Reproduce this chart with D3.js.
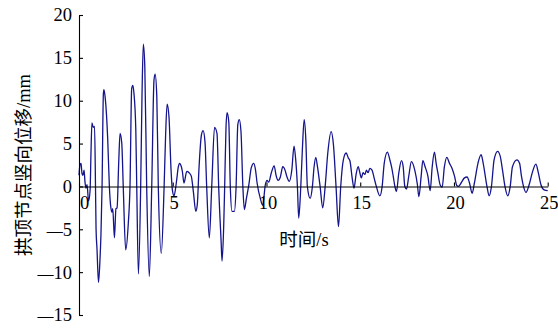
<!DOCTYPE html>
<html>
<head>
<meta charset="utf-8">
<script src="https://cdn.jsdelivr.net/npm/d3@7"></script>
<style>
  html, body { margin: 0; padding: 0; background: #fff; }
  svg { display: block; }
  .tick text { font-family: "Liberation Serif", "Times New Roman", serif; font-size: 18.5px; fill: #000; }
  .title { font-family: "Liberation Serif", "Noto Sans CJK SC", serif; font-size: 18.5px; fill: #000; }
</style>
</head>
<body>
<svg id="chart" width="558" height="330"></svg>
<script>
// Crown (vault-top) node vertical displacement over time
const timeS = [
  0.00, 0.05, 0.11, 0.16, 0.21, 0.27, 0.32, 0.37, 0.43, 0.51, 0.59, 0.64, 0.69, 0.76, 0.83, 0.88,
  0.91, 0.96, 1.04, 1.12, 1.17, 1.23, 1.30, 1.33, 1.40, 1.53, 1.62, 1.69, 1.76, 1.80, 1.89, 1.97,
  2.03, 2.12, 2.19, 2.28, 2.36, 2.49, 2.63, 2.72, 2.81, 2.87, 2.93, 3.03, 3.08, 3.17, 3.29, 3.36,
  3.43, 3.51, 3.61, 3.75, 3.88, 4.00, 4.06, 4.15, 4.23, 4.39, 4.54, 4.62, 4.70, 4.80, 4.91, 4.98,
  5.07, 5.19, 5.30, 5.36, 5.46, 5.51, 5.60, 5.75, 5.87, 5.99, 6.10, 6.23, 6.31, 6.40, 6.53, 6.62,
  6.72, 6.81, 6.95, 7.08, 7.23, 7.36, 7.45, 7.58, 7.63, 7.72, 7.77, 7.84, 7.90, 7.99, 8.07, 8.16,
  8.29, 8.38, 8.47, 8.55, 8.64, 8.74, 8.82, 8.93, 9.06, 9.19, 9.32, 9.41, 9.50, 9.67, 9.80, 9.94,
  10.03, 10.12, 10.26, 10.41, 10.51, 10.62, 10.74, 10.87, 10.99, 11.08, 11.22, 11.35, 11.47, 11.56, 11.65, 11.72,
  11.83, 11.92, 12.01, 12.10, 12.18, 12.33, 12.45, 12.54, 12.63, 12.72, 12.86, 13.00, 13.13, 13.27, 13.45, 13.57,
  13.71, 13.84, 13.96, 14.10, 14.25, 14.37, 14.45, 14.57, 14.67, 14.78, 14.89, 14.98, 15.06, 15.15, 15.25, 15.33,
  15.42, 15.51, 15.63, 15.74, 15.86, 16.05, 16.17, 16.28, 16.45, 16.58, 16.67, 16.76, 16.85, 16.93, 17.06, 17.20,
  17.29, 17.38, 17.47, 17.59, 17.73, 17.91, 18.05, 18.13, 18.25, 18.34, 18.46, 18.61, 18.73, 18.84, 18.96, 19.05,
  19.14, 19.26, 19.37, 19.49, 19.62, 19.76, 19.90, 20.03, 20.15, 20.24, 20.38, 20.56, 20.70, 20.83, 20.97, 21.09,
  21.28, 21.45, 21.56, 21.76, 21.88, 22.00, 22.14, 22.33, 22.47, 22.59, 22.72, 22.87, 23.00, 23.12, 23.36, 23.50,
  23.60, 23.71, 23.84, 24.01, 24.19, 24.37, 24.49, 24.64, 24.81, 25.00
];
const displacementMm = [
  1.3, 2.5, 2.7, 1.5, 1.3, 1.9, 0.5, -0.2, 0.2, -1.7, -0.5, 4.0, 7.4, 6.9, 7.0, 0.0,
  -5.0, -7.3, -11.2, -8.5, -5.7, 0.0, 10.8, 11.3, 10.3, 5.6, 0.0, -2.3, -3.0, -2.6, -6.0, -2.6,
  -2.5, 2.9, 6.2, 5.1, 0.0, -7.4, -4.3, 0.0, 11.4, 11.8, 10.9, 6.6, 0.0, -10.2, 0.0, 10.5,
  16.6, 14.0, 0.0, -10.5, 0.0, 12.4, 13.1, 10.5, 0.0, -7.8, 0.0, 6.0, 9.6, 8.1, 1.9, -0.4,
  -1.1, 0.4, 2.3, 2.7, 2.3, 1.8, 0.4, 1.75, 1.6, 1.2, -0.6, -2.9, -2.1, 2.1, 6.0, 6.5,
  5.2, 0.0, -6.0, 0.0, 6.9, 6.2, 0.0, -6.4, -8.7, -4.5, 0.0, 6.8, 8.6, 7.5, 0.0, -2.9,
  -2.9, 0.0, 7.2, 7.8, 6.4, 0.0, -2.7, -1.4, 0.2, 2.2, 2.7, 2.0, 0.4, -1.4, -2.2, 0.2,
  0.7, 0.5, 1.6, 2.4, 1.3, 0.7, 1.1, 2.3, 1.9, 1.2, 0.6, 1.9, 4.7, 3.1, 0.0, -3.7,
  0.0, 4.6, 7.8, 5.4, 0.0, -1.4, 0.0, 2.3, 3.4, 2.3, 0.0, -2.5, 0.0, 3.9, 6.4, 4.9,
  0.0, -4.7, 0.0, 3.1, 3.9, 3.3, 3.0, 1.0, -0.2, 1.4, 2.3, 1.6, 1.0, 1.6, 1.4, 1.9,
  1.6, 2.1, 1.9, 1.0, 0.0, -1.1, 0.0, 2.7, 4.0, 3.1, 2.3, 1.2, 0.0, -0.6, 1.6, 3.0,
  2.3, 0.0, -0.3, 1.2, 2.9, 1.9, 0.2, -1.2, 1.2, 3.0, 2.3, 1.2, -0.5, 2.3, 4.0, 2.7,
  1.6, 0.2, -0.1, 2.3, 3.4, 2.7, 2.1, 1.2, 0.1, 0.0, 0.4, 1.0, 1.1, 0.4, -0.8, 0.4,
  2.7, 3.7, 2.7, 0.0, -1.1, 0.0, 3.1, 4.1, 3.5, 1.9, 0.0, -1.1, 0.0, 2.3, 3.1, 2.7,
  1.2, 0.0, -0.7, 0.2, 1.7, 2.6, 1.7, 0.2, -0.4, -0.5
];
const xTicks = [0, 5, 10, 15, 20, 25];
const yTicks = [-15, -10, -5, 0, 5, 10, 15, 20];
const xTitle = "时间/s";
const yTitle = "拱顶节点竖向位移/mm";

const svg = d3.select("#chart");
const x = d3.scaleLinear().domain([0, 25]).range([79, 547.7]);
const y = d3.scaleLinear().domain([-15, 20]).range([315, 15]);

// signal trace
const series = timeS.map((t, i) => ({ t, v: displacementMm[i] }));
svg.append("path")
  .datum(series)
  .attr("fill", "none")
  .attr("stroke", "#14148c")
  .attr("stroke-width", 1.3)
  .attr("stroke-linejoin", "round")
  .attr("d", d3.line().x(d => x(d.t)).y(d => y(d.v)).curve(d3.curveMonotoneX));

// tick labels use a long dash for negatives
function dashLabel(sel) {
  sel.selectAll(".tick text").each(function (d) {
    const t = d3.select(this);
    t.text(null);
    if (d < 0) {
      t.append("tspan").attr("font-size", "16px").text("\u2014");
      t.append("tspan").text(String(Math.abs(d)));
    } else {
      t.text(String(d));
    }
  });
}

// y axis with inward ticks
const gy = svg.append("g")
  .attr("transform", `translate(${x(0)},0)`)
  .call(d3.axisLeft(y).tickValues(yTicks).tickSizeInner(-4).tickSizeOuter(0).tickPadding(7));
gy.call(dashLabel);

// x axis drawn along zero displacement, ticks pointing up
const gx = svg.append("g")
  .attr("transform", `translate(0,${y(0)})`)
  .call(d3.axisBottom(x).tickValues(xTicks).tickSizeInner(-4).tickSizeOuter(0).tickPadding(9.5));
gx.call(dashLabel);
gx.selectAll(".tick text").attr("dx", d => d === 0 ? 5 : 1);

[gx, gy].forEach(g => {
  g.select(".domain").attr("stroke", "#000").attr("stroke-width", 1.1);
  g.selectAll(".tick line").attr("stroke", "#000").attr("stroke-width", 1.1);
});

// axis titles
svg.append("text")
  .attr("class", "title")
  .attr("x", 304)
  .attr("y", 246)
  .attr("text-anchor", "middle")
  .text(xTitle);

svg.append("text")
  .attr("class", "title")
  .attr("transform", "translate(30,165) rotate(-90)")
  .attr("text-anchor", "middle")
  .text(yTitle);
</script>
</body>
</html>
